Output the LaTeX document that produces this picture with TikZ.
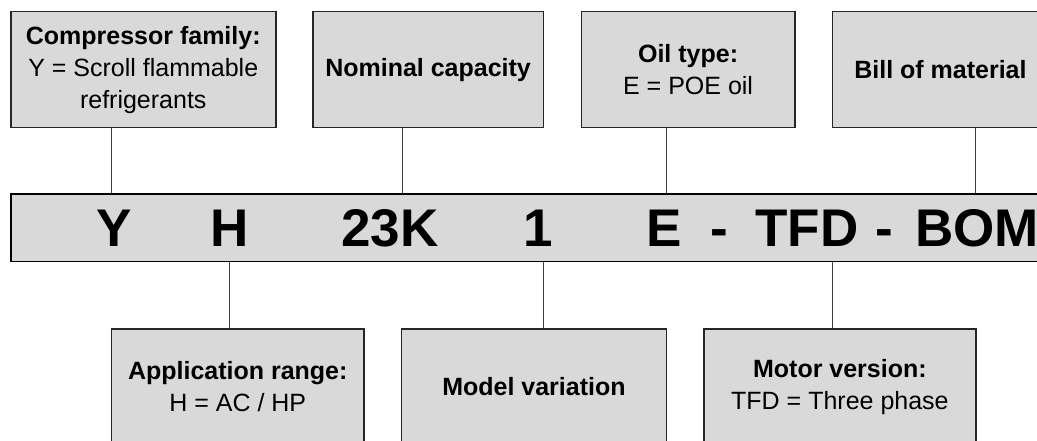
\documentclass[tikz,border=0pt]{standalone}
\usepackage{fontspec}
\setmainfont{Liberation Sans}
\usetikzlibrary{positioning}

\begin{document}
\begin{tikzpicture}[x=1pt,y=-1pt,
    box/.style={draw=black!85,line width=1.5pt,fill=black!15,align=center,anchor=north west,
      minimum height=115.7pt,inner sep=0pt,font=\fontsize{25}{32}\selectfont},
    letter/.style={anchor=base,inner sep=0pt,font=\fontsize{53}{60}\selectfont\bfseries},
    link/.style={draw=black!75,line width=0.9pt}]
  \useasboundingbox (0,0) rectangle (1037,441);
  \clip (0,0) rectangle (1037,441);
  % model code
  \node[draw=black,line width=1.6pt,fill=black!15,anchor=north west,minimum width=1050pt,
    minimum height=67.4pt,inner sep=0pt] (band) at (10,193.3) {};
  \node[letter] (cY) at (114,246.7) {Y};
  \node[letter] (cH) at (230,246.7) {H};
  \node[letter] (cCap) at (390,246.7) {23K};
  \node[letter] (cVar) at (538,246.7) {1};
  \node[letter] (cE) at (664,246.7) {E};
  \node[letter] (dashA) at (719,246.7) {-};
  \node[letter] (cTFD) at (807,246.7) {TFD};
  \node[letter] (dashB) at (884,246.7) {-};
  \node[letter] (cBOM) at (977,246.7) {BOM};
  % boxes above
  \node[box,minimum width=265pt] (fam) at (10,11)
    {\textbf{Compressor family:}\\Y = Scroll flammable\\refrigerants};
  \node[box,minimum width=230.7pt] (cap) at (312,11) {\textbf{Nominal capacity}};
  \node[box,minimum width=213.3pt] (oil) at (580.7,11) {\textbf{Oil type:}\\E = POE oil};
  \node[box,minimum width=216pt] (bom) at (831.7,11) {\textbf{Bill of material}};
  % boxes below
  \node[box,minimum width=252.6pt] (app) at (110.7,328.3)
    {\textbf{Application range:}\\H = AC / HP};
  \node[box,minimum width=265pt] (var) at (400.7,328.3) {\textbf{Model variation}};
  \node[box,minimum width=271.7pt] (mot) at (703.3,328.3)
    {\textbf{Motor version:}\\TFD = Three phase};
  % connectors
  \coordinate (pY) at (111.5,0);
  \coordinate (pCap) at (402.3,0);
  \coordinate (pE) at (666,0);
  \coordinate (pBOM) at (975.3,0);
  \coordinate (pH) at (229.3,0);
  \coordinate (pVar) at (543.3,0);
  \coordinate (pTFD) at (832.7,0);
  \draw[link] (pY |- fam.south) -- (pY |- band.north);
  \draw[link] (pCap |- cap.south) -- (pCap |- band.north);
  \draw[link] (pE |- oil.south) -- (pE |- band.north);
  \draw[link] (pBOM |- bom.south) -- (pBOM |- band.north);
  \draw[link] (pH |- band.south) -- (pH |- app.north);
  \draw[link] (pVar |- band.south) -- (pVar |- var.north);
  \draw[link] (pTFD |- band.south) -- (pTFD |- mot.north);
\end{tikzpicture}
\end{document}
